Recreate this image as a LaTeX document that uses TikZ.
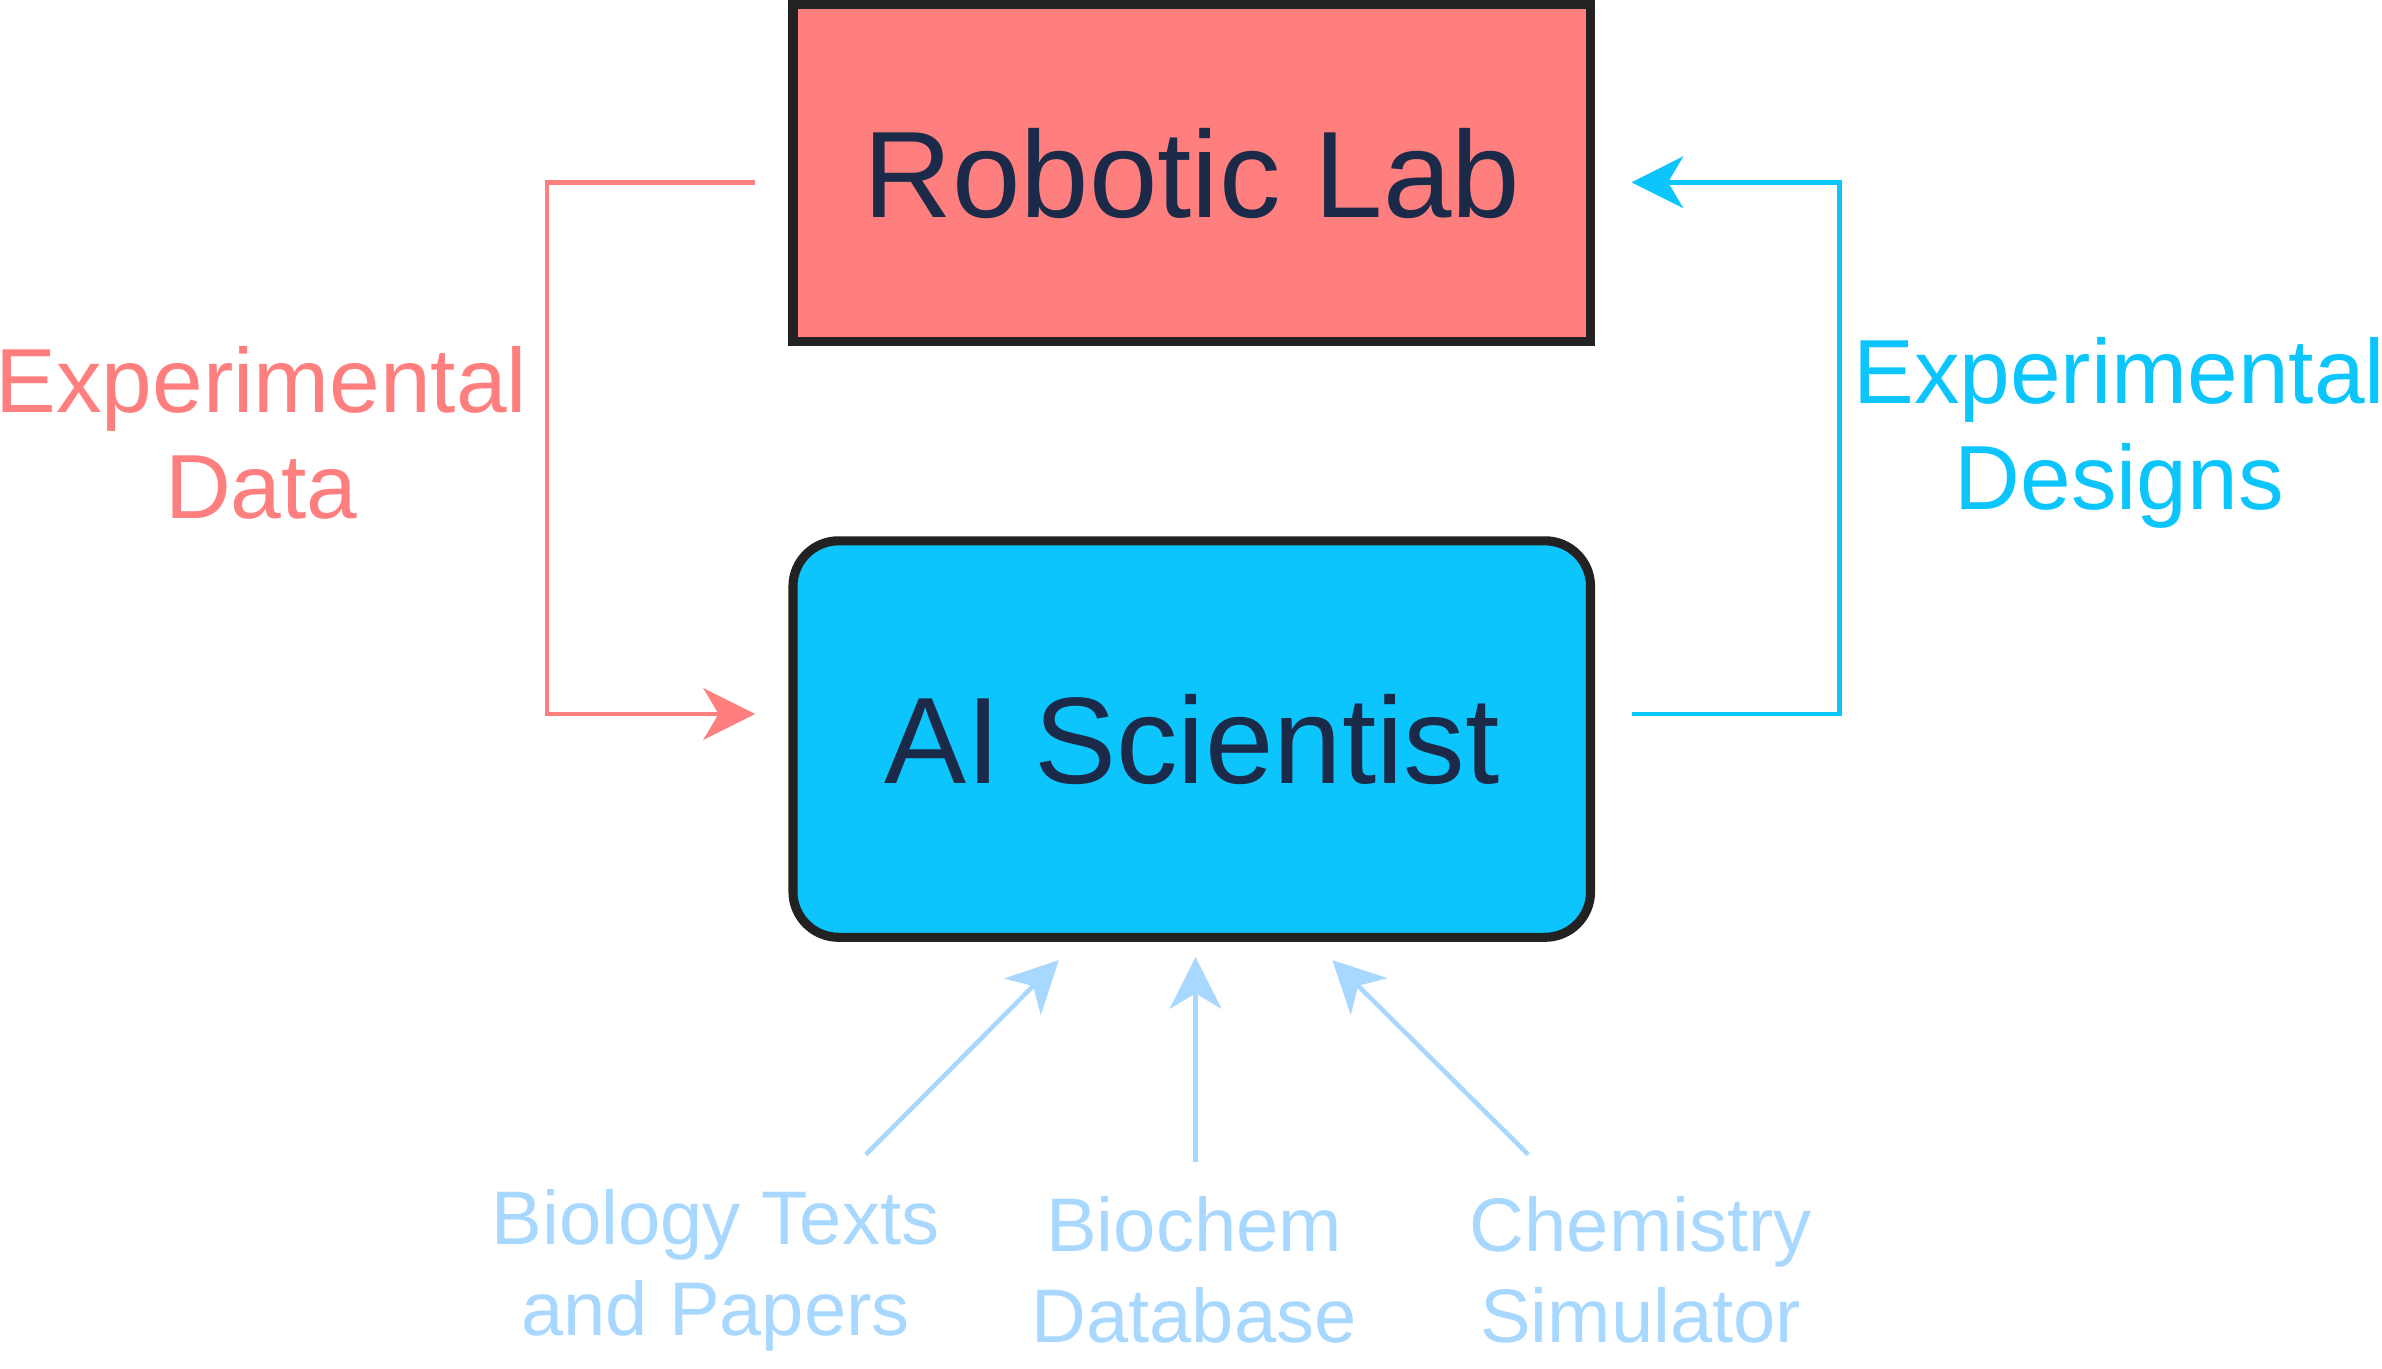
\documentclass[tikz,border=0pt]{standalone}
\usepackage{fontspec}
\setmainfont{Liberation Sans}
\usetikzlibrary{arrows.meta}
\definecolor{labred}{HTML}{FF7F7F}
\definecolor{aiblue}{HTML}{0DC5FD}
\definecolor{lightb}{HTML}{A8D8FF}
\definecolor{navy}{HTML}{1A2A48}
\definecolor{edge}{HTML}{222222}
\begin{document}
\begin{tikzpicture}[x=1pt,y=-1pt,
  box/.style={draw=edge,line width=6pt,minimum width=525pt,text=navy,font=\fontsize{81}{90}\selectfont},
  lbl/.style={align=center,font=\fontsize{60}{70}\selectfont},
  src/.style={align=center,text=lightb,font=\fontsize{50}{60}\selectfont},
  arr/.style={line width=3pt,-{Stealth[length=34pt,width=34pt,inset=10pt]}},
  sarr/.style={line width=3pt,draw=lightb,-{Stealth[length=34pt,width=34pt,inset=10pt]}}]
\useasboundingbox (0,0) rectangle (1568,901);
\node[box,fill=labred,minimum height=222pt] (lab) at (784.5,114) {Robotic Lab};
\node[box,fill=aiblue,minimum height=261pt,rounded corners=30pt] (ai) at (784.5,486.5) {AI Scientist};
\coordinate (r1) at (497,120); \coordinate (r2) at (497,470);
\coordinate (b1) at (1074,470); \coordinate (b2) at (1074,120);
\draw[arr,draw=labred] (r1) -- (360,120) -- (360,470) -- (r2);
\draw[arr,draw=aiblue] (b1) -- (1211,470) -- (1211,120) -- (b2);
\node[lbl,text=labred] (ed) at (172,285) {Experimental\\Data};
\node[lbl,text=aiblue] (eds) at (1395,285) {Experimental\\Designs};
\node[src] (bt) at (471,836) {Biology Texts\\and Papers};
\node[src] (bd) at (786,836) {Biochem\\Database};
\node[src] (cs) at (1080,836) {Chemistry\\Simulator};
\coordinate (t1) at (697,632); \coordinate (t2) at (787,630); \coordinate (t3) at (877,632);
\coordinate (s1) at (570,760); \coordinate (s2) at (787,765); \coordinate (s3) at (1006,760);
\draw[sarr] (s1) -- (t1);
\draw[sarr] (s2) -- (t2);
\draw[sarr] (s3) -- (t3);
\end{tikzpicture}
\end{document}
